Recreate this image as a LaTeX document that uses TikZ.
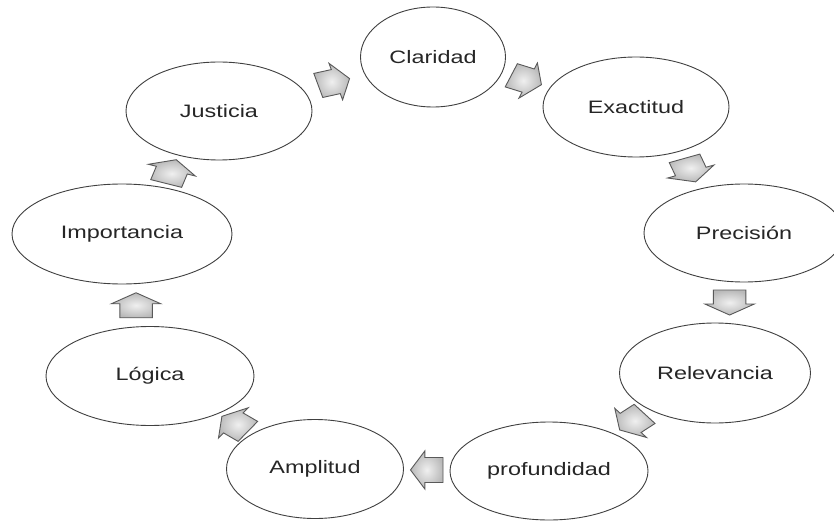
\documentclass[tikz,border=0pt]{standalone}
\usepackage{fontspec}
\setmainfont{Liberation Sans}
\newfontfamily\lblfont[FakeStretch=1.3]{Liberation Sans}
\usetikzlibrary{shapes.geometric,calc}
\tikzset{
  oval/.style={ellipse, draw=black!75, line width=0.9pt, inner sep=0pt,
    font=\lblfont\fontsize{18}{20}\selectfont, text=black!85},
  barrowstyle/.style={draw=black!65, line width=0.9pt, line join=miter,
    inner color=gray!12, outer color=gray!55}
}
\newcommand\blockarrow[2]{%
  \begin{scope}[shift={(#1)},xscale=1.3,rotate=#2]
    \draw[barrowstyle] (-12.5pt,-12.5pt) -- (1.5pt,-12.5pt) -- (1.5pt,-19pt)
      -- (12.5pt,0pt) -- (1.5pt,19pt) -- (1.5pt,12.5pt) -- (-12.5pt,12.5pt) -- cycle;
  \end{scope}}
\begin{document}
\begin{tikzpicture}[x=1pt,y=-1pt]
  \path[use as bounding box, fill=white] (0,0) rectangle (834,521);
  \clip (0,0) rectangle (834,521);
  \node[oval, minimum width=145pt, minimum height=100pt] (clar) at (433,57) {Claridad};
  \node[oval, minimum width=186pt, minimum height=100pt] (exact) at (636,107) {Exactitud};
  \node[oval, minimum width=200pt, minimum height=98pt] (prec) at (744,233) {Precisión};
  \node[oval, minimum width=191pt, minimum height=100pt] (rel) at (715,373) {Relevancia};
  \node[oval, minimum width=198pt, minimum height=98pt] (prof) at (549,471) {profundidad};
  \node[oval, minimum width=177pt, minimum height=99pt] (ampl) at (315,469) {Amplitud};
  \node[oval, minimum width=208pt, minimum height=99pt] (logi) at (150,376) {Lógica};
  \node[oval, minimum width=220pt, minimum height=100pt] (imp) at (122,234) {Importancia};
  \node[oval, minimum width=186pt, minimum height=98pt] (just) at (219,111) {Justicia};

  \path (just) -- (clar) coordinate[midway] (m1);
  \path (clar) -- (exact) coordinate[midway] (m2);
  \path (exact) -- (prec) coordinate[midway] (m3);
  \path (prec) -- (rel) coordinate[midway] (m4);
  \path (rel) -- (prof) coordinate[midway] (m5);
  \path (prof) -- (ampl) coordinate[midway] (m6);
  \path (ampl) -- (logi) coordinate[midway] (m7);
  \path (logi) -- (imp) coordinate[midway] (m8);
  \path (imp) -- (just) coordinate[midway] (m9);

  \blockarrow{m1}{16}
  \blockarrow{m2}{-22}
  \blockarrow{m3}{-70}
  \blockarrow{m4}{-90}
  \blockarrow{m5}{220}
  \blockarrow{m6}{180}
  \blockarrow{m7}{143}
  \blockarrow{m8}{90}
  \blockarrow{m9}{72}
\end{tikzpicture}
\end{document}
